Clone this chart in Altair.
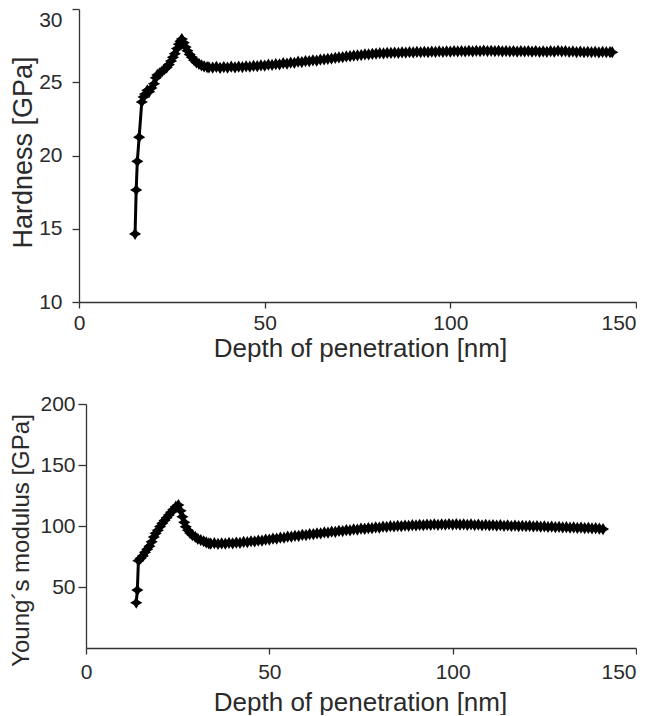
import altair as alt
import pandas as pd

# ---- Hardness vs depth (top panel) ----
h_depth = [15.1, 15.4, 15.7, 16.2, 16.9, 17.4, 17.8, 18.4, 18.9, 19.5, 20.2, 20.7, 21.1, 21.7,
           22.4, 23.0, 23.6, 24.2, 24.8, 25.3, 25.8, 26.4, 26.9, 27.3, 27.7, 28.2, 28.7, 29.2,
           29.8, 30.4, 31.0, 31.6, 32.3, 33.0, 33.7, 34.5,
           35, 36, 37, 38, 39, 40, 41, 42, 43, 44, 45, 46, 47, 48, 49, 50, 51, 52, 53, 54, 55,
           56, 57, 58, 59, 60, 61, 62, 63, 64, 65, 66, 67, 68, 69, 70, 71, 72, 73, 74, 75, 76,
           77, 78, 79, 80, 81, 82, 83, 84, 85, 86, 87, 88, 89, 90, 91, 92, 93, 94, 95, 96, 97,
           98, 99, 100, 101, 102, 103, 104, 105, 106, 107, 108, 109, 110, 111, 112, 113, 114,
           115, 116, 117, 118, 119, 120, 121, 122, 123, 124, 125, 126, 127, 128, 129, 130, 131,
           132, 133, 134, 135, 136, 137, 138, 139, 140, 141, 142, 143, 143.6]
hardness = [14.65, 17.65, 19.6, 21.25, 23.65, 24.0, 24.2, 24.45, 24.35, 24.6, 24.9, 25.3, 25.5, 25.6,
            25.75, 25.9, 26.0, 26.2, 26.45, 26.7, 26.95, 27.3, 27.6, 27.8, 27.95, 27.7, 27.4, 27.15,
            26.9, 26.7, 26.5, 26.35, 26.25, 26.15, 26.08, 26.04,
            26.02, 26.0, 26.05, 25.98, 26.03, 26.0, 26.06, 26.02, 26.07, 26.04, 26.09, 26.06, 26.12,
            26.1, 26.15, 26.13, 26.2, 26.18, 26.24, 26.22, 26.3, 26.27, 26.34, 26.33, 26.4, 26.38,
            26.45, 26.44, 26.5, 26.48, 26.55, 26.56, 26.6, 26.62, 26.66, 26.7, 26.72, 26.76, 26.78,
            26.82, 26.84, 26.86, 26.9, 26.9, 26.94, 26.95, 26.98, 26.97, 27.0, 27.0, 27.03, 27.01,
            27.04, 27.03, 27.06, 27.04, 27.07, 27.05, 27.08, 27.06, 27.09, 27.07, 27.1, 27.08, 27.11,
            27.09, 27.12, 27.1, 27.13, 27.1, 27.14, 27.11, 27.15, 27.12, 27.16, 27.13, 27.15, 27.12,
            27.14, 27.11, 27.13, 27.1, 27.12, 27.09, 27.12, 27.1, 27.13, 27.09, 27.12, 27.08, 27.11,
            27.08, 27.12, 27.09, 27.15, 27.1, 27.12, 27.08, 27.1, 27.06, 27.09, 27.05, 27.08, 27.05,
            27.08, 27.04, 27.07, 27.05, 27.06, 27.05]

# ---- Young's modulus vs depth (bottom panel) ----
e_depth = [13.7, 14.0, 14.3, 14.9, 15.5, 16.1, 16.7, 17.3, 17.9, 18.5, 19.0, 19.6, 20.2, 20.8,
           21.4, 22.0, 22.6, 23.2, 23.8, 24.5, 25.2, 25.8, 26.3, 26.8, 27.2, 27.8, 28.4, 29.0,
           29.8, 30.5, 31.3, 32.1, 32.8, 33.5,
           34, 35, 36, 37, 38, 39, 40, 41, 42, 43, 44, 45, 46, 47, 48, 49, 50, 51, 52, 53, 54,
           55, 56, 57, 58, 59, 60, 61, 62, 63, 64, 65, 66, 67, 68, 69, 70, 71, 72, 73, 74, 75,
           76, 77, 78, 79, 80, 81, 82, 83, 84, 85, 86, 87, 88, 89, 90, 91, 92, 93, 94, 95, 96,
           97, 98, 99, 100, 101, 102, 103, 104, 105, 106, 107, 108, 109, 110, 111, 112, 113,
           114, 115, 116, 117, 118, 119, 120, 121, 122, 123, 124, 125, 126, 127, 128, 129, 130,
           131, 132, 133, 134, 135, 136, 137, 138, 139, 140, 141]
modulus = [37.1, 47.5, 71.6, 73.5, 75.5, 78.5, 81.0, 83.5, 87.0, 91.0, 94.0, 96.5, 99.5, 102.2,
           104.5, 106.8, 109.0, 111.3, 113.5, 115.8, 117.2, 112.5, 107.6, 103.0, 99.4, 96.5, 94.2,
           92.6, 91.0, 89.5, 88.5, 87.5, 86.6, 85.8,
           85.6, 85.9, 85.4, 85.8, 85.5, 86.1, 85.8, 86.4, 86.2, 86.9, 86.7, 87.5, 87.3, 88.1, 88.0,
           88.8, 88.9, 89.6, 89.6, 90.4, 90.4, 91.3, 91.2, 92.0, 91.9, 92.7, 92.6, 93.4, 93.3, 94.0,
           93.9, 94.7, 94.6, 95.3, 95.2, 96.0, 95.9, 96.6, 96.5, 97.2, 97.1, 97.8, 97.7, 98.3, 98.2,
           98.9, 98.7, 99.4, 99.2, 99.8, 99.6, 100.1, 99.9, 100.4, 100.2, 100.7, 100.5, 100.9, 100.7,
           101.1, 100.9, 101.3, 101.0, 101.4, 101.1, 101.6, 101.2, 101.5, 101.1, 101.4, 100.9,
           101.3, 100.8, 101.1, 100.6, 101.0, 100.5, 100.8, 100.3, 100.7, 100.2, 100.5, 100.0,
           100.4, 99.9, 100.2, 99.8, 100.1, 99.6, 99.9, 99.4, 99.7, 99.2, 99.5, 99.0, 99.3, 98.8,
           99.1, 98.6, 98.9, 98.4, 98.7, 98.2, 98.5, 98.0, 98.2, 97.8, 97.5]

x_ticks = [0, 50, 100, 150]
h_ticks = [10, 15, 20, 25, 30]
e_ticks = [50, 100, 150, 200]

df_h = pd.DataFrame({"depth": h_depth, "value": hardness})
df_e = pd.DataFrame({"depth": e_depth, "value": modulus})

STAR = "M0,-1L0.38,-0.38L1,0L0.38,0.38L0,1L-0.38,0.38L-1,0L-0.38,-0.38Z"
FONT = "Liberation Sans"
TXT = "#2a2a2a"
AX = "#333333"


def panel(df, ytitle, ydomain, yticks, width, height, xrange, yaxis_kw, xaxis_kw):
    x = alt.X("depth:Q", scale=alt.Scale(domain=[0, 150], range=xrange, nice=False),
              axis=alt.Axis(values=x_ticks, title="Depth of penetration [nm]", grid=False,
                            labelFlush=False, labelFontSize=21, titleFontSize=26,
                            titleFontWeight="normal", titleBaseline="alphabetic",
                            labelAlign={"condition": {"test": "datum.value == 150", "value": "right"},
                                        "value": "center"},
                            **xaxis_kw))
    y = alt.Y("value:Q", scale=alt.Scale(domain=ydomain, nice=False),
              axis=alt.Axis(values=yticks, title=ytitle, grid=False, labelFlush=False,
                            labelFontSize=21, titleFontWeight="normal",
                            titleBaseline="alphabetic", titleAngle=270,
                            **yaxis_kw))
    base = alt.Chart(df).encode(x=x, y=y)
    line = base.mark_line(color="black", strokeWidth=3)
    pts = base.mark_point(shape=STAR, filled=True, color="black", size=150, opacity=1)
    return alt.layer(line, pts).properties(width=width, height=height)


top = panel(df_h, "Hardness [GPa]", [10, 30], h_ticks, 557, 293, [0, 557],
            dict(tickSize=7, labelPadding=10, titleX=-48, titleY=143, titleFontSize=27,
                 labelBaseline={"condition": {"test": "datum.value == 30", "value": "top"},
                                "value": "middle"}),
            dict(tickSize=6, labelPadding=4, titleX=281, titleY=54))

bottom = panel(df_e, "Young\u00b4s modulus [GPa]", [0, 200], e_ticks, 557, 244, [7, 557],
               dict(tickSize=8, labelPadding=3, titleX=-58, titleY=136, titleFontSize=24,
                    offset=-7),
               dict(tickSize=6, labelPadding=7, titleX=281, titleY=62))

chart = alt.concat(top, bottom, columns=1, spacing=32).properties(
    padding={"left": 0, "top": 0, "right": 0, "bottom": 0},
    background="white",
).configure_view(stroke="transparent", strokeWidth=0).configure_axis(
    labelFont=FONT, titleFont=FONT, labelColor=TXT, titleColor=TXT,
    domainColor=AX, tickColor=AX, domainWidth=1.3, tickWidth=1.3,
)

chart.save("out.html", embed_options={"renderer": "svg", "actions": False})
